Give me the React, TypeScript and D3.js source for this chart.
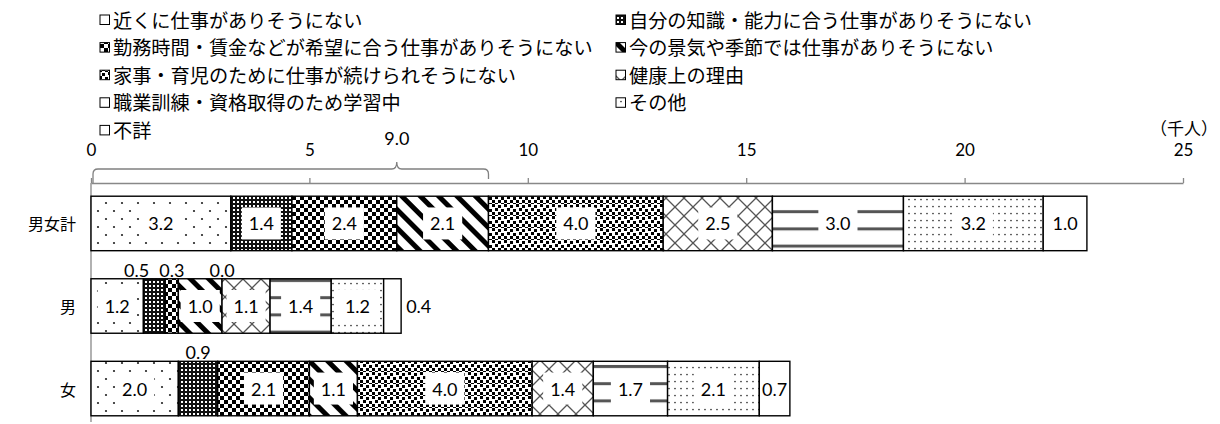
import React, { useEffect, useRef } from 'react';
import * as d3 from 'd3';

// 就業希望者のうち求職していない理由（千人）
const categories = ['男女計', '男', '女'];
const reasons = [
    '近くに仕事がありそうにない',
    '自分の知識・能力に合う仕事がありそうにない',
    '勤務時間・賃金などが希望に合う仕事がありそうにない',
    '今の景気や季節では仕事がありそうにない',
    '家事・育児のために仕事が続けられそうにない',
    '健康上の理由',
    '職業訓練・資格取得のため学習中',
    'その他',
    '不詳',
];
const totalValues = [3.2, 1.4, 2.4, 2.1, 4.0, 2.5, 3.0, 3.2, 1.0];
const maleValues = [1.2, 0.5, 0.3, 1.0, 0.0, 1.1, 1.4, 1.2, 0.4];
const femaleValues = [2.0, 0.9, 2.1, 1.1, 4.0, 1.4, 1.7, 2.1, 0.7];
// ラベルの置き方 (in: 棒の中, above: 棒の上, right: 棒の右)
const totalPlace = ['in', 'in', 'in', 'in', 'in', 'in', 'in', 'in', 'in'];
const malePlace = ['in', 'above', 'above', 'in', 'above', 'in', 'in', 'in', 'right'];
const femalePlace = ['in', 'above', 'in', 'in', 'in', 'in', 'in', 'in', 'in'];
const xTicks = [0, 5, 10, 15, 20, 25];
const unitLabel = '（千人）';
const bracketLabel = '9.0';
const bracketCount = 4; // 先頭4項目を括る
const bracketPeakAfter = 3;

const JP = "'Noto Sans CJK JP', sans-serif";
const NUM = "Lato, 'Noto Sans', sans-serif";

export default function App() {
    const ref = useRef<SVGSVGElement>(null);

    useEffect(() => {
        const width = 1220, height = 424;
        const svg = d3.select(ref.current);
        svg.selectAll('*').remove();
        svg.attr('width', width).attr('height', height);

        const x = d3.scaleLinear().domain([0, 25]).range([91, 1183]);
        const y = d3.scaleBand().domain(categories).range([183, 429]).paddingInner(0.34).paddingOuter(0.16);
        const axisY = 183;

        // パターン
        const defs = svg.append('defs');
        const pat = (id: string, w: number, h: number, tr?: string) => {
            const p = defs.append('pattern').attr('id', id).attr('patternUnits', 'userSpaceOnUse')
                .attr('width', w).attr('height', h);
            if (tr) p.attr('patternTransform', tr);
            p.append('rect').attr('width', w).attr('height', h).attr('fill', '#fff');
            return p;
        };
        let p = pat('p0', 16, 16);
        p.append('circle').attr('cx', 2).attr('cy', 3).attr('r', 1.1).attr('fill', '#222');
        p.append('circle').attr('cx', 10).attr('cy', 11).attr('r', 1.1).attr('fill', '#222');

        p = pat('p1', 4, 4);
        p.append('rect').attr('width', 4).attr('height', 4).attr('fill', '#111');
        p.append('rect').attr('x', 1).attr('y', 1).attr('width', 2).attr('height', 2).attr('fill', '#fff');

        p = pat('p2', 8, 8);
        p.append('rect').attr('width', 4).attr('height', 4).attr('fill', '#000');
        p.append('rect').attr('x', 4).attr('y', 4).attr('width', 4).attr('height', 4).attr('fill', '#000');

        p = pat('p3', 13, 13, 'rotate(-45)');
        p.append('rect').attr('width', 5).attr('height', 13).attr('fill', '#000');

        p = pat('p4', 12, 12);
        [[0, 0], [6, 1], [3, 4], [9, 5], [0, 8], [6, 8], [3, 11], [9, 11]].forEach(([a, b]) =>
            p.append('rect').attr('x', a).attr('y', b).attr('width', 3).attr('height', 3).attr('fill', '#000'));

        p = pat('p5', 18, 18);
        p.append('path').attr('d', 'M0,0L18,18M18,0L0,18').attr('stroke', '#555').attr('stroke-width', 1.3);

        p = pat('p6', 10, 17.2);
        p.append('rect').attr('y', 3.8).attr('width', 10).attr('height', 3).attr('fill', '#555');

        p = pat('p7', 6, 7);
        p.append('circle').attr('cx', 3).attr('cy', 3.5).attr('r', 0.85).attr('fill', '#333');

        pat('p8', 4, 4);

        // 凡例
        const legend = svg.append('g').attr('font-family', JP).attr('font-size', 19.2);
        reasons.forEach((r, i) => {
            const lx = [100, 616][i % 2], ly = 19.5 + Math.floor(i / 2) * 27.6;
            legend.append('rect').attr('x', lx).attr('y', ly - 4.5).attr('width', 9.5).attr('height', 9.5)
                .attr('fill', `url(#p${i})`).attr('stroke', '#000').attr('stroke-width', 1);
            legend.append('text').attr('x', lx + 13).attr('y', ly).attr('dominant-baseline', 'central').text(r);
        });

        // x軸
        const axis = svg.append('g').attr('transform', `translate(0,${axisY})`)
            .call(d3.axisTop(x).tickValues(xTicks).tickSize(5).tickSizeOuter(0).tickPadding(0));
        axis.select('.domain').attr('stroke', '#888').attr('stroke-width', 1.3);
        axis.selectAll('.tick line').attr('stroke', '#888').attr('stroke-width', 1.3);
        axis.selectAll('.tick text').attr('font-family', NUM).attr('font-size', 17).attr('fill', '#000')
            .attr('y', -33).attr('dy', '0.35em');
        svg.append('text').attr('x', 1218).attr('y', 127).attr('text-anchor', 'end')
            .attr('dominant-baseline', 'central').attr('font-family', JP).attr('font-size', 17).text(unitLabel);

        // y軸
        svg.append('line').attr('x1', x(0)).attr('x2', x(0)).attr('y1', axisY).attr('y2', 422)
            .attr('stroke', '#888').attr('stroke-width', 1.3);
        svg.append('g').selectAll('text').data(categories).join('text')
            .attr('x', 76).attr('y', d => y(d)! + y.bandwidth() / 2).attr('text-anchor', 'end')
            .attr('dominant-baseline', 'central').attr('font-family', JP).attr('font-size', 16).text(d => d);

        // 括弧
        const bEnd = d3.sum(totalValues.slice(0, bracketCount));
        const bPeak = d3.sum(totalValues.slice(0, bracketPeakAfter));
        const x0 = x(0) + 2, x1 = x(bEnd), xp = x(bPeak), by = 169;
        svg.append('path')
            .attr('d', `M${x0},${axisY}L${x0},${by + 5}Q${x0},${by} ${x0 + 5},${by}L${xp - 5},${by}Q${xp},${by} ${xp},${by - 7}`
                + `Q${xp},${by} ${xp + 5},${by}L${x1 - 5},${by}Q${x1},${by} ${x1},${by + 5}L${x1},${by + 10}`)
            .attr('fill', 'none').attr('stroke', '#808080').attr('stroke-width', 1.3);
        svg.append('text').attr('x', xp).attr('y', 138).attr('text-anchor', 'middle')
            .attr('dominant-baseline', 'central').attr('font-family', NUM).attr('font-size', 18).text(bracketLabel);

        // 積み上げ棒
        const allValues = [totalValues, maleValues, femaleValues];
        const places = [totalPlace, malePlace, femalePlace];
        const keys = reasons.map((_, i) => String(i));
        const rows = categories.map((c, ci) => {
            const o: any = { cat: c };
            allValues[ci].forEach((v, i) => { o[String(i)] = v; });
            return o;
        });
        const series = d3.stack().keys(keys)(rows);

        svg.append('g').selectAll('g').data(series).join('g')
            .attr('fill', (s, k) => `url(#p${k})`)
            .selectAll('rect').data(s => s).join('rect')
            .attr('x', d => x(d[0]))
            .attr('width', d => x(d[1]) - x(d[0]))
            .attr('y', d => y(d.data.cat as string)!)
            .attr('height', y.bandwidth())
            .attr('stroke', '#000').attr('stroke-width', 1.4);

        const fmt = d3.format('.1f');
        const labels = svg.append('g').attr('font-family', NUM).attr('font-size', 18);
        categories.forEach((c, ci) => {
            const top = y(c)!, mid = top + y.bandwidth() / 2;
            const above: { t: any, cx: number, w: number }[] = [];
            series.forEach((s, k) => {
                const d = s[ci];
                const place = places[ci][k];
                const a = x(d[0]), b = x(d[1]);
                const g = labels.append('g');
                const t = g.append('text').attr('dominant-baseline', 'central').text(fmt(allValues[ci][k]));
                const tw = (t.node() as SVGTextElement).getComputedTextLength();
                if (place === 'in') {
                    t.attr('x', (a + b) / 2).attr('y', mid).attr('text-anchor', 'middle');
                    const bw = Math.min(tw + 14, b - a - 3);
                    g.insert('rect', 'text').attr('x', (a + b) / 2 - bw / 2).attr('y', mid - 16)
                        .attr('width', bw).attr('height', 32).attr('fill', '#fff');
                } else if (place === 'right') {
                    t.attr('x', b + 5).attr('y', mid).attr('text-anchor', 'start');
                } else {
                    t.attr('y', top - 9).attr('text-anchor', 'middle');
                    above.push({ t, cx: (a + b) / 2, w: tw });
                }
            });
            // 上ラベルの重なりを左へずらす
            for (let i = above.length - 2; i >= 0; i--) {
                const nx = above[i + 1];
                const lim = nx.cx - nx.w / 2 - 10 - above[i].w / 2;
                if (above[i].cx > lim) above[i].cx = lim;
            }
            above.forEach(o => o.t.attr('x', o.cx));
        });
    }, []);

    return <svg ref={ref} style={{ position: 'absolute', left: 0, top: 0, background: '#fff' }} />;
}
